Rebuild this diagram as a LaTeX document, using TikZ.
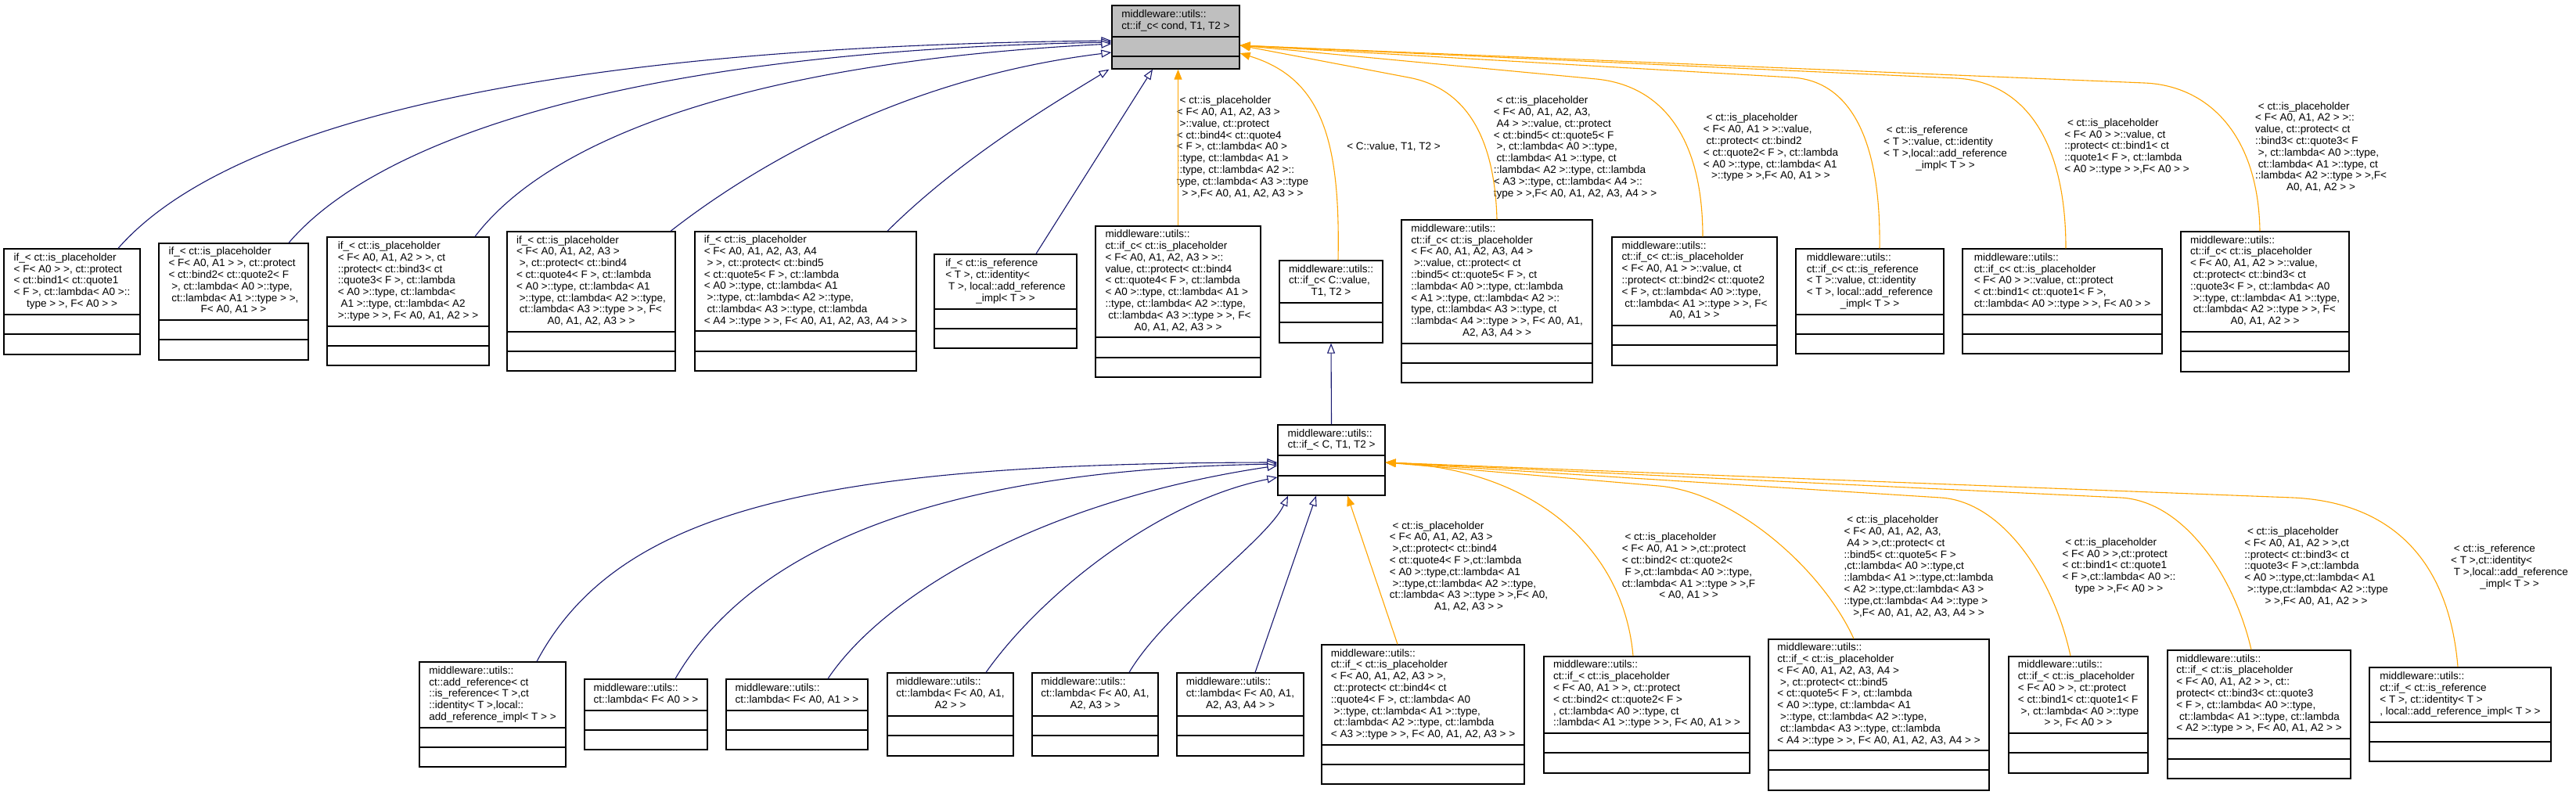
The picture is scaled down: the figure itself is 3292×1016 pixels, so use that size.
\documentclass[tikz,border=0pt]{standalone}
\usepackage{fontspec}
\setmainfont{Liberation Sans}
\usetikzlibrary{arrows.meta,fit}
\definecolor{eblue}{HTML}{191970}
\definecolor{eorange}{HTML}{FFA500}
\definecolor{tgray}{HTML}{BFBFBF}
\newcommand{\dfont}{\fontsize{6.75pt}{7.4pt}\selectfont}
\newcommand{\dtab}[1]{\begin{tabular}{@{}l@{}}#1\end{tabular}}
\newcommand{\lastc}[1]{\multicolumn{1}{@{}c@{}}{#1}}
% name, x1, y1, x2, y2, y title bottom, y divider, extra style, text
\newcommand{\classbox}[9]{%
  \node[clsbox,#8,fit={(#2,#3) (#4,#5)}] (#1) {};
  \node[lbl] (#1t) at ({(#2+#4)/2},{(#3+#6)/2}) {\dtab{#9}};
  \draw[clsdiv] (#2,#6) -- (#4,#6);
  \draw[clsdiv] (#2,#7) -- (#4,#7);
}
\begin{document}
\begin{tikzpicture}[x=0.5pt,y=-0.5pt,
  clsbox/.style={draw=black,line width=0.65pt,inner sep=0pt,fill=white},
  clsdiv/.style={draw=black,line width=0.65pt},
  lbl/.style={inner sep=0pt,font=\dfont,text=black},
  inh/.style={draw=eblue,line width=0.55pt,-{Triangle[length=6.5pt,width=5pt,fill=white]}},
  tpl/.style={draw=eorange,line width=0.55pt,-{Triangle[length=6.5pt,width=5pt,fill=eorange]}}]
\fill[white] (0,0) rectangle (3292,1016);
\useasboundingbox (0,0) rectangle (3292,1016);

% ---------------- top node
\classbox{T}{1421}{7}{1584}{88}{47}{72}{fill=tgray}{middleware::utils::\\ \lastc{ct::if\_c< cond, T1, T2 >}}

% ---------------- row 1
\classbox{A1}{5}{318}{179}{453}{402}{427}{}{if\_< ct::is\_placeholder\\ < F< A0 > >, ct::protect\\ < ct::bind1< ct::quote1\\ < F >, ct::lambda< A0 >::\\ \lastc{type > >, F< A0 > >}}
\classbox{A2}{203}{311}{394}{460}{409}{434}{}{if\_< ct::is\_placeholder\\ < F< A0, A1 > >, ct::protect\\ < ct::bind2< ct::quote2< F\\\ >, ct::lambda< A0 >::type,\\\ ct::lambda< A1 >::type > >,\\ \lastc{F< A0, A1 > >}}
\classbox{A3}{418}{303}{625}{467}{417}{442}{}{if\_< ct::is\_placeholder\\ < F< A0, A1, A2 > >, ct\\ ::protect< ct::bind3< ct\\ ::quote3< F >, ct::lambda\\ < A0 >::type, ct::lambda<\\\ A1 >::type, ct::lambda< A2\\ \lastc{>::type > >, F< A0, A1, A2 > >}}
\classbox{A4}{648}{296}{863}{474}{424}{449}{}{if\_< ct::is\_placeholder\\ < F< A0, A1, A2, A3 >\\\ >, ct::protect< ct::bind4\\ < ct::quote4< F >, ct::lambda\\ < A0 >::type, ct::lambda< A1\\\ >::type, ct::lambda< A2 >::type,\\\ ct::lambda< A3 >::type > >, F<\\ \lastc{A0, A1, A2, A3 > >}}
\classbox{A5}{888}{296}{1171}{474}{423}{449}{}{if\_< ct::is\_placeholder\\ < F< A0, A1, A2, A3, A4\\\ > >, ct::protect< ct::bind5\\ < ct::quote5< F >, ct::lambda\\ < A0 >::type, ct::lambda< A1\\\ >::type, ct::lambda< A2 >::type,\\\ ct::lambda< A3 >::type, ct::lambda\\ \lastc{< A4 >::type > >, F< A0, A1, A2, A3, A4 > >}}
\classbox{A6}{1194}{325}{1376}{445}{395}{420}{}{if\_< ct::is\_reference\\ < T >, ct::identity<\\\ T >, local::add\_reference\\ \lastc{\_impl< T > >}}
\classbox{A7}{1400}{289}{1611}{482}{431}{457}{}{middleware::utils::\\ ct::if\_c< ct::is\_placeholder\\ < F< A0, A1, A2, A3 > >::\\ value, ct::protect< ct::bind4\\ < ct::quote4< F >, ct::lambda\\ < A0 >::type, ct::lambda< A1 >\\ ::type, ct::lambda< A2 >::type,\\\ ct::lambda< A3 >::type > >, F<\\ \lastc{A0, A1, A2, A3 > >}}
\classbox{B}{1635}{333}{1767}{438}{387}{412}{}{middleware::utils::\\ ct::if\_c< C::value,\\ \lastc{T1, T2 >}}
\classbox{A8}{1791}{281}{2035}{489}{439}{464}{}{middleware::utils::\\ ct::if\_c< ct::is\_placeholder\\ < F< A0, A1, A2, A3, A4 >\\\ >::value, ct::protect< ct\\ ::bind5< ct::quote5< F >, ct\\ ::lambda< A0 >::type, ct::lambda\\ < A1 >::type, ct::lambda< A2 >::\\ type, ct::lambda< A3 >::type, ct\\ ::lambda< A4 >::type > >, F< A0, A1,\\ \lastc{A2, A3, A4 > >}}
\classbox{A9}{2060}{303}{2271}{467}{416}{441}{}{middleware::utils::\\ ct::if\_c< ct::is\_placeholder\\ < F< A0, A1 > >::value, ct\\ ::protect< ct::bind2< ct::quote2\\ < F >, ct::lambda< A0 >::type,\\\ ct::lambda< A1 >::type > >, F<\\ \lastc{A0, A1 > >}}
\classbox{A10}{2295}{318}{2484}{452}{402}{427}{}{middleware::utils::\\ ct::if\_c< ct::is\_reference\\ < T >::value, ct::identity\\ < T >, local::add\_reference\\ \lastc{\_impl< T > >}}
\classbox{A11}{2508}{318}{2763}{452}{402}{427}{}{middleware::utils::\\ ct::if\_c< ct::is\_placeholder\\ < F< A0 > >::value, ct::protect\\ < ct::bind1< ct::quote1< F >,\\ \lastc{ct::lambda< A0 >::type > >, F< A0 > >}}
\classbox{A12}{2787}{296}{3002}{475}{424}{449}{}{middleware::utils::\\ ct::if\_c< ct::is\_placeholder\\ < F< A0, A1, A2 > >::value,\\\ ct::protect< ct::bind3< ct\\ ::quote3< F >, ct::lambda< A0\\\ >::type, ct::lambda< A1 >::type,\\\ ct::lambda< A2 >::type > >, F<\\ \lastc{A0, A1, A2 > >}}

% ---------------- row 2
\classbox{C}{1633}{543}{1770}{633}{582}{608}{}{middleware::utils::\\ \lastc{ct::if\_< C, T1, T2 >}}

% ---------------- row 3
\classbox{D1}{536}{846}{723}{980}{930}{955}{}{middleware::utils::\\ ct::add\_reference< ct\\ ::is\_reference< T >,ct\\ ::identity< T >,local::\\ \lastc{add\_reference\_impl< T > >}}
\classbox{D2}{747}{868}{904}{958}{908}{933}{}{middleware::utils::\\ \lastc{ct::lambda< F< A0 > >}}
\classbox{D3}{928}{868}{1109}{958}{908}{933}{}{middleware::utils::\\ \lastc{ct::lambda< F< A0, A1 > >}}
\classbox{D4}{1134}{860}{1295}{966}{915}{940}{}{middleware::utils::\\ ct::lambda< F< A0, A1,\\ \lastc{A2 > >}}
\classbox{D5}{1319}{860}{1480}{966}{915}{940}{}{middleware::utils::\\ ct::lambda< F< A0, A1,\\ \lastc{A2, A3 > >}}
\classbox{D6}{1504}{860}{1666}{966}{915}{940}{}{middleware::utils::\\ ct::lambda< F< A0, A1,\\ \lastc{A2, A3, A4 > >}}
\classbox{D7}{1689}{824}{1948}{1002}{952}{977}{}{middleware::utils::\\ ct::if\_< ct::is\_placeholder\\ < F< A0, A1, A2, A3 > >,\\\ ct::protect< ct::bind4< ct\\ ::quote4< F >, ct::lambda< A0\\\ >::type, ct::lambda< A1 >::type,\\\ ct::lambda< A2 >::type, ct::lambda\\ \lastc{< A3 >::type > >, F< A0, A1, A2, A3 > >}}
\classbox{D8}{1973}{839}{2236}{988}{937}{962}{}{middleware::utils::\\ ct::if\_< ct::is\_placeholder\\ < F< A0, A1 > >, ct::protect\\ < ct::bind2< ct::quote2< F >\\ , ct::lambda< A0 >::type, ct\\ \lastc{::lambda< A1 >::type > >, F< A0, A1 > >}}
\classbox{D9}{2260}{817}{2542}{1010}{959}{984}{}{middleware::utils::\\ ct::if\_< ct::is\_placeholder\\ < F< A0, A1, A2, A3, A4 >\\\ >, ct::protect< ct::bind5\\ < ct::quote5< F >, ct::lambda\\ < A0 >::type, ct::lambda< A1\\\ >::type, ct::lambda< A2 >::type,\\\ ct::lambda< A3 >::type, ct::lambda\\ \lastc{< A4 >::type > >, F< A0, A1, A2, A3, A4 > >}}
\classbox{D10}{2567}{839}{2745}{988}{937}{962}{}{middleware::utils::\\ ct::if\_< ct::is\_placeholder\\ < F< A0 > >, ct::protect\\ < ct::bind1< ct::quote1< F\\\ >, ct::lambda< A0 >::type\\ \lastc{> >, F< A0 > >}}
\classbox{D11}{2770}{831}{3004}{995}{944}{970}{}{middleware::utils::\\ ct::if\_< ct::is\_placeholder\\ < F< A0, A1, A2 > >, ct::\\ protect< ct::bind3< ct::quote3\\ < F >, ct::lambda< A0 >::type,\\\ ct::lambda< A1 >::type, ct::lambda\\ \lastc{< A2 >::type > >, F< A0, A1, A2 > >}}
\classbox{D12}{3028}{853}{3260}{973}{923}{948}{}{middleware::utils::\\ ct::if\_< ct::is\_reference\\ < T >, ct::identity< T >\\ \lastc{, local::add\_reference\_impl< T > >}}

% ---------------- edge labels, row 1
\node[lbl] (L7) at (1588,189) {\dtab{\ < ct::is\_placeholder\\ < F< A0, A1, A2, A3 >\\\ >::value, ct::protect\\ < ct::bind4< ct::quote4\\ < F >, ct::lambda< A0 >\\ ::type, ct::lambda< A1 >\\ ::type, ct::lambda< A2 >::\\ type, ct::lambda< A3 >::type\\ \lastc{> >,F< A0, A1, A2, A3 > >}}};
\node[lbl] (LB) at (1781,189) {\dtab{< C::value, T1, T2 >}};
\node[lbl] (L8) at (2013,189) {\dtab{\ < ct::is\_placeholder\\ < F< A0, A1, A2, A3,\\\ A4 > >::value, ct::protect\\ < ct::bind5< ct::quote5< F\\\ >, ct::lambda< A0 >::type,\\\ ct::lambda< A1 >::type, ct\\ ::lambda< A2 >::type, ct::lambda\\ < A3 >::type, ct::lambda< A4 >::\\ \lastc{type > >,F< A0, A1, A2, A3, A4 > >}}};
\node[lbl] (L9) at (2263,189) {\dtab{\ < ct::is\_placeholder\\ < F< A0, A1 > >::value,\\\ ct::protect< ct::bind2\\ < ct::quote2< F >, ct::lambda\\ < A0 >::type, ct::lambda< A1\\ \lastc{>::type > >,F< A0, A1 > >}}};
\node[lbl] (L10) at (2486,190) {\dtab{\ < ct::is\_reference\\ < T >::value, ct::identity\\ < T >,local::add\_reference\\ \lastc{\_impl< T > >}}};
\node[lbl] (L11) at (2718,188) {\dtab{\ < ct::is\_placeholder\\ < F< A0 > >::value, ct\\ ::protect< ct::bind1< ct\\ ::quote1< F >, ct::lambda\\ \lastc{< A0 >::type > >,F< A0 > >}}};
\node[lbl] (L12) at (2966,189) {\dtab{\ < ct::is\_placeholder\\ < F< A0, A1, A2 > >::\\ value, ct::protect< ct\\ ::bind3< ct::quote3< F\\\ >, ct::lambda< A0 >::type,\\\ ct::lambda< A1 >::type, ct\\ ::lambda< A2 >::type > >,F<\\ \lastc{A0, A1, A2 > >}}};

% ---------------- edge labels, row 3
\node[lbl] (LD7) at (1877,725) {\dtab{\ < ct::is\_placeholder\\ < F< A0, A1, A2, A3 >\\\ >,ct::protect< ct::bind4\\ < ct::quote4< F >,ct::lambda\\ < A0 >::type,ct::lambda< A1\\\ >::type,ct::lambda< A2 >::type,\\ ct::lambda< A3 >::type > >,F< A0,\\ \lastc{A1, A2, A3 > >}}};
\node[lbl] (LD8) at (2158,725) {\dtab{\ < ct::is\_placeholder\\ < F< A0, A1 > >,ct::protect\\ < ct::bind2< ct::quote2<\\\ F >,ct::lambda< A0 >::type,\\ ct::lambda< A1 >::type > >,F\\ \lastc{< A0, A1 > >}}};
\node[lbl] (LD9) at (2452,725) {\dtab{\ < ct::is\_placeholder\\ < F< A0, A1, A2, A3,\\\ A4 > >,ct::protect< ct\\ ::bind5< ct::quote5< F >\\ ,ct::lambda< A0 >::type,ct\\ ::lambda< A1 >::type,ct::lambda\\ < A2 >::type,ct::lambda< A3 >\\ ::type,ct::lambda< A4 >::type >\\ \lastc{>,F< A0, A1, A2, A3, A4 > >}}};
\node[lbl] (LD10) at (2708,724) {\dtab{\ < ct::is\_placeholder\\ < F< A0 > >,ct::protect\\ < ct::bind1< ct::quote1\\ < F >,ct::lambda< A0 >::\\ \lastc{type > >,F< A0 > >}}};
\node[lbl] (LD11) at (2960,725) {\dtab{\ < ct::is\_placeholder\\ < F< A0, A1, A2 > >,ct\\ ::protect< ct::bind3< ct\\ ::quote3< F >,ct::lambda\\ < A0 >::type,ct::lambda< A1\\\ >::type,ct::lambda< A2 >::type\\ \lastc{> >,F< A0, A1, A2 > >}}};
\node[lbl] (LD12) at (3207,725) {\dtab{\ < ct::is\_reference\\ < T >,ct::identity<\\\ T >,local::add\_reference\\ \lastc{\_impl< T > >}}};

% ---------------- edges to top node
\draw[inh] ([xshift=29.5pt]A1.north) .. controls (280,170) and (650,60) .. ([yshift=-2.25pt]T.west);
\draw[inh] ([xshift=35.25pt]A2.north) .. controls (480,180) and (800,65) .. ([yshift=-3.25pt]T.west);
\draw[inh] ([xshift=42.75pt]A3.north) .. controls (700,180) and (950,80) .. ([yshift=-4.25pt]T.west);
\draw[inh] ([xshift=50.75pt]A4.north) .. controls (960,215) and (1150,100) .. ([yshift=-9.75pt]T.west);
\draw[inh] ([xshift=52.25pt]A5.north) .. controls (1230,200) and (1350,130) .. ([xshift=-1.5pt]T.south west);
\draw[inh] ([xshift=19.5pt]A6.north) -- ([xshift=-14.75pt]T.south);
\draw[tpl] (A7.north) -- (A7.north |- T.south);
\draw[tpl] ([xshift=4.5pt]B.north) .. controls (1713,180) and (1690,100) .. ([yshift=-10.25pt]T.east);
\draw[tpl] (A8.north) .. controls (1910,170) and (1870,112) .. (1800,99) -- ([yshift=-5.25pt]T.east);
\draw[tpl] ([xshift=5.25pt]A9.north) .. controls (2176,170) and (2120,109) .. (2040,101) -- ([yshift=-5.25pt]T.east);
\draw[tpl] ([xshift=6.25pt]A10.north) .. controls (2404,170) and (2360,103) .. (2290,99) -- ([yshift=-5.25pt]T.east);
\draw[tpl] ([xshift=2.25pt]A11.north) .. controls (2640,170) and (2580,104) .. (2500,100) -- ([yshift=-5.25pt]T.east);
\draw[tpl] ([xshift=-3.25pt]A12.north) .. controls (2886,170) and (2820,109) .. (2740,106) -- ([yshift=-5.25pt]T.east);

% ---------------- B <- C
\draw[inh] (C.north) -- (B.south);

% ---------------- edges to C
\draw[inh] ([xshift=28.25pt]D1.north) .. controls (790,650) and (1050,592) .. ([yshift=-1.5pt]C.west);
\draw[inh] ([xshift=18.75pt]D2.north) .. controls (960,700) and (1200,600) .. ([yshift=-2.5pt]C.west);
\draw[inh] ([xshift=19.75pt]D3.north) .. controls (1130,760) and (1330,640) .. ([yshift=-3.5pt]C.west);
\draw[inh] ([xshift=22.75pt]D4.north) .. controls (1330,760) and (1480,640) .. ([yshift=-11pt]C.west);
\draw[inh] ([xshift=21.75pt]D5.north) .. controls (1490,780) and (1620,690) .. ([xshift=-27.75pt]C.south);
\draw[inh] ([xshift=9.5pt]D6.north) -- ([xshift=-9.75pt]C.south);
\draw[tpl] ([xshift=-16.25pt]D7.north) -- ([xshift=10.25pt]C.south);
\draw[tpl] ([xshift=-8.75pt]D8.north) .. controls (2075,700) and (1960,600) .. ([yshift=-1.5pt]C.east);
\draw[tpl] ([xshift=-16pt]D9.north) .. controls (2330,730) and (2220,630) .. (2120,621) -- ([yshift=-1.5pt]C.east);
\draw[tpl] ([xshift=-5pt]D10.north) .. controls (2625,740) and (2560,641) .. (2480,636) -- ([yshift=-1.5pt]C.east);
\draw[tpl] ([xshift=-5pt]D11.north) .. controls (2855,735) and (2790,640) .. (2710,636) -- ([yshift=-1.5pt]C.east);
\draw[tpl] ([xshift=-1.5pt]D12.north) .. controls (3130,720) and (3060,642) .. (2930,636) -- ([yshift=-1.5pt]C.east);
\end{tikzpicture}
\end{document}
